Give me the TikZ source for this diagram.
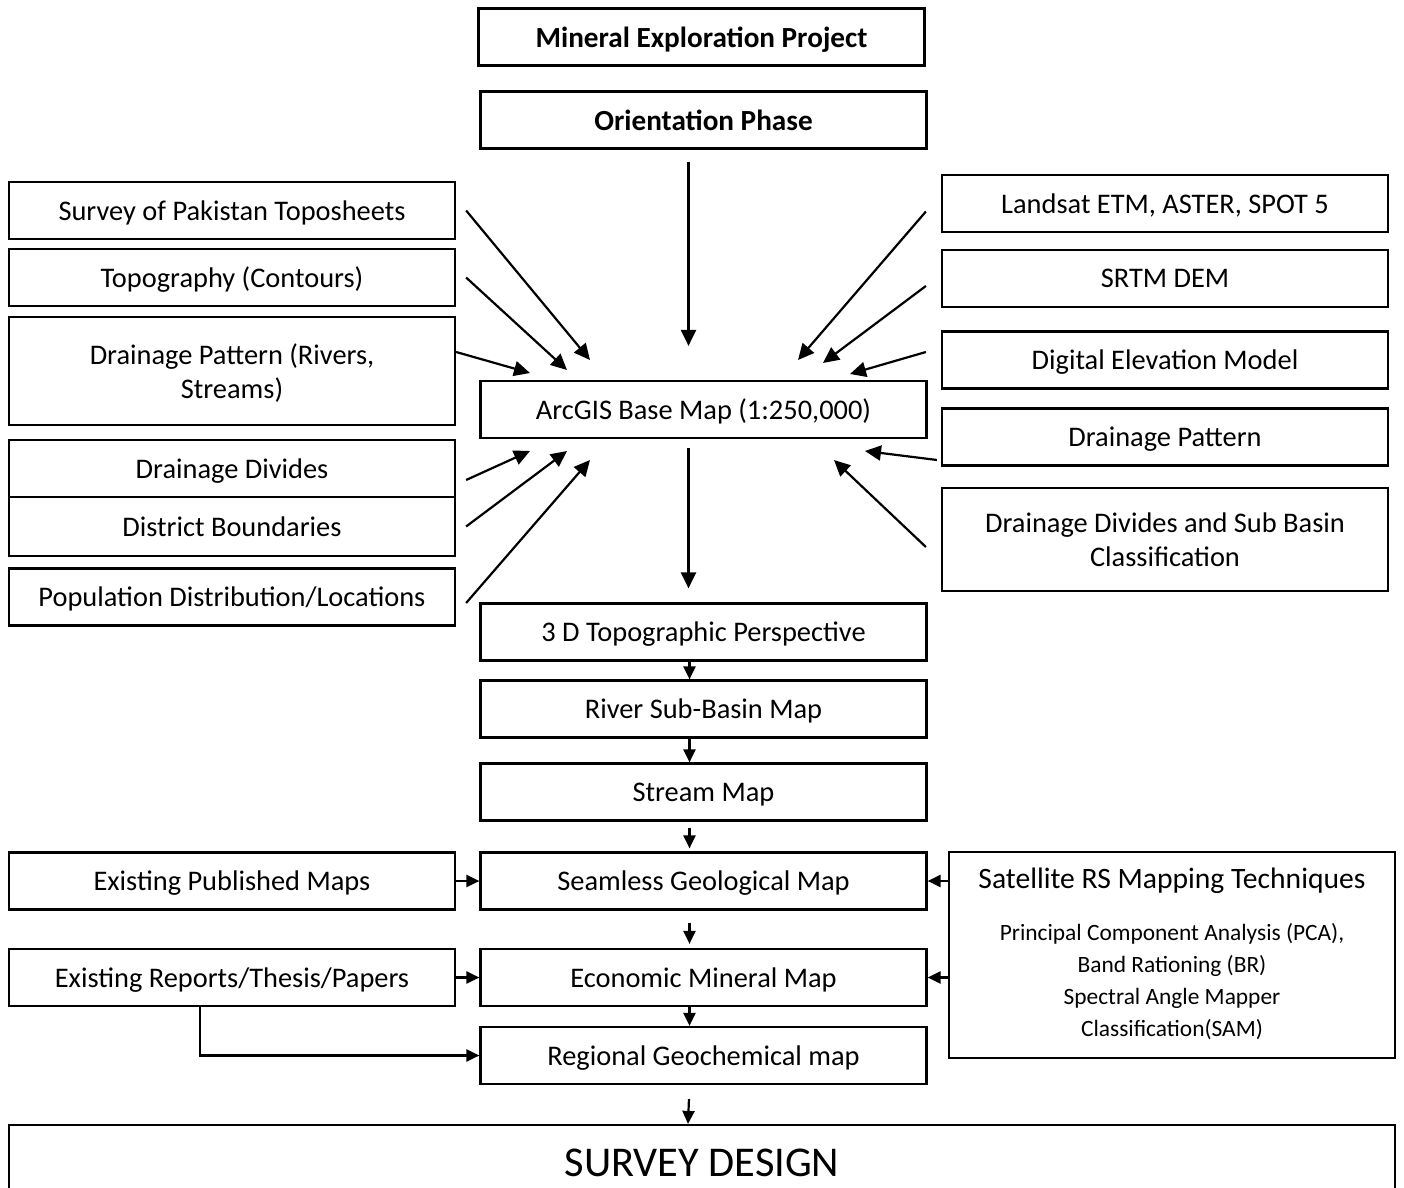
\documentclass[tikz,border=0pt]{standalone}
\usepackage{fontspec}
\setmainfont{Carlito}
\usetikzlibrary{arrows.meta, positioning, calc}

\begin{document}
\begin{tikzpicture}[
    x=0.5pt, y=-0.5pt,
    % Define styles for consistency
    box/.style={draw, line width=1.1pt, minimum width=223pt, minimum height=28.5pt,
                inner sep=2pt, text depth=0pt, align=center, font=\fontsize{14.2}{17}\selectfont},
    titlebox/.style={box, font=\fontsize{14.6}{17}\selectfont\bfseries},
    arr/.style={-{Triangle[length=8pt, width=7.5pt]}, line width=1.1pt},
    short_arr/.style={-{Triangle[length=6.5pt, width=6pt]}, line width=1.1pt}
]
    \useasboundingbox (0,0) rectangle (1404,1188);

    % ---------------------------------------------------------
    % 1. Central column
    % ---------------------------------------------------------
    \node[titlebox] (project) at (701.5, 37) {Mineral Exploration Project};
    \node[titlebox] (orient) at (703.5, 120) {Orientation Phase};
    \node[box] (arcgis) at (703.5, 409.5) {ArcGIS Base Map (1:250,000)};
    \node[box] (topo3d) at (703.5, 632) {3 D Topographic Perspective};
    \node[box] (river) at (703.5, 709) {River Sub-Basin Map};
    \node[box] (stream) at (703.5, 792) {Stream Map};
    \node[box] (seamless) at (703.5, 881) {Seamless Geological Map};
    \node[box] (economic) at (703.5, 977.5) {Economic Mineral Map};
    \node[box] (regional) at (703.5, 1055.5) {Regional Geochemical map};

    % ---------------------------------------------------------
    % 2. Left inputs
    % ---------------------------------------------------------
    \node[box] (toposheet) at (232, 210.5) {Survey of Pakistan Toposheets};
    \node[box] (contour) at (232, 277.5) {Topography (Contours)};
    \node[box, minimum height=54pt] (drainL) at (232, 371) {Drainage Pattern (Rivers,\\Streams)};
    \node[box] (dividesL) at (232, 468.5) {Drainage Divides};
    \node[box, minimum height=29.5pt] (district) at (232, 526.5) {District Boundaries};
    \node[box] (population) at (232, 597) {Population Distribution/Locations};
    \node[box] (published) at (232, 881) {Existing Published Maps};
    \node[box] (reports) at (232, 977.5) {Existing Reports/Thesis/Papers};

    % ---------------------------------------------------------
    % 3. Right inputs
    % ---------------------------------------------------------
    \node[box] (landsat) at (1165, 203.5) {Landsat ETM, ASTER, SPOT 5};
    \node[box] (srtm) at (1165, 278.5) {SRTM DEM};
    \node[box] (dem) at (1165, 360) {Digital Elevation Model};
    \node[box] (drainR) at (1165, 437) {Drainage Pattern};
    \node[box, minimum height=51.5pt] (dividesR) at (1165, 539.5) {Drainage Divides and Sub Basin\\Classification};
    \node[box, minimum height=103pt] (satellite) at (1172, 955) {};
    \node[font=\fontsize{14.8}{17}\selectfont] (sathead) at (1172, 881) {Satellite RS Mapping Techniques};
    \node[font=\fontsize{11.7}{16}\selectfont, align=center] (satlist) at (1172, 982)
        {Principal Component Analysis (PCA),\\Band Rationing (BR)\\Spectral Angle Mapper\\Classification(SAM)};

    % ---------------------------------------------------------
    % 4. Survey design
    % ---------------------------------------------------------
    \node[box, minimum width=693pt, minimum height=38pt, font=\fontsize{21.2}{25}\selectfont] (design) at (702, 1163) {SURVEY DESIGN};

    % arrow targets round the base map
    \coordinate (inL1) at (590, 360);
    \coordinate (inL2) at (567, 370);
    \coordinate (inL3) at (530, 373);
    \coordinate (inL4) at (530, 451);
    \coordinate (inL5) at (567, 451);
    \coordinate (inL6) at (590, 460);
    \coordinate (inR1) at (798, 360);
    \coordinate (inR2) at (823, 363);
    \coordinate (inR3) at (850, 374);
    \coordinate (inR4) at (865, 451);
    \coordinate (inR5) at (834, 460);

    % ---------------------------------------------------------
    % 5. Connectors
    % ---------------------------------------------------------
    \draw[arr, shorten <=6pt, shorten >=17pt] ([xshift=-7.5pt]orient.south) -- ([xshift=-7.5pt]arcgis.north);
    \draw[arr, shorten <=4.5pt, shorten >=7pt] ([xshift=-7.5pt]arcgis.south) -- ([xshift=-7.5pt]topo3d.north);

    \draw[arr] ([xshift=5pt]toposheet.east) -- (inL1);
    \draw[arr] ([xshift=5pt]contour.east) -- (inL2);
    \draw[arr] ([yshift=9.5pt]drainL.east) -- (inL3);
    \draw[arr] ([shift={(5pt,-5.75pt)}]dividesL.east) -- (inL4);
    \draw[arr] ([xshift=5pt]district.east) -- (inL5);
    \draw[arr] ([shift={(5pt,-3pt)}]population.east) -- (inL6);

    \draw[arr] ([shift={(-7.5pt,-4pt)}]landsat.west) -- (inR1);
    \draw[arr] ([shift={(-7.5pt,-3.75pt)}]srtm.west) -- (inR2);
    \draw[arr] ([shift={(-7.5pt,4pt)}]dem.west) -- (inR3);
    \draw[arr] ([shift={(-2pt,-11.5pt)}]drainR.west) -- (inR4);
    \draw[arr] ([shift={(-7.5pt,-3.75pt)}]dividesR.west) -- (inR5);

    \draw[short_arr] ([xshift=-7pt]topo3d.south) -- ([xshift=-7pt]river.north);
    \draw[short_arr] ([xshift=-7pt]river.south) -- ([xshift=-7pt]stream.north);
    \draw[short_arr, shorten <=3pt, shorten >=1.5pt] ([xshift=-7pt]stream.south) -- ([xshift=-7pt]seamless.north);
    \draw[short_arr, shorten <=6pt, shorten >=2pt] ([xshift=-7pt]seamless.south) -- ([xshift=-7pt]economic.north);
    \draw[short_arr] ([xshift=-7pt]economic.south) -- ([xshift=-7pt]regional.north);
    \draw[short_arr, shorten <=7pt] ([xshift=-7pt]regional.south) -- ([xshift=-7pt]design.north);

    \draw[short_arr] (published) -- (seamless);
    \draw[short_arr] (reports) -- (economic);
    \draw[short_arr] (satellite.west |- seamless.east) -- (seamless.east);
    \draw[short_arr] (satellite.west |- economic.east) -- (economic.east);
    \draw[short_arr] ([xshift=-16pt]reports.south) |- (regional.west);
\end{tikzpicture}
\end{document}
